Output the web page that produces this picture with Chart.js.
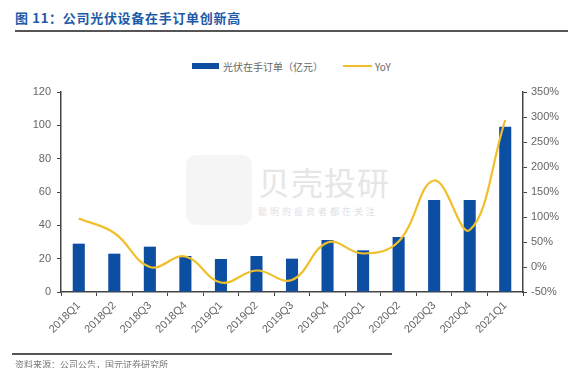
<!DOCTYPE html>
<html>
<head>
<meta charset="utf-8">
<script src="https://cdn.jsdelivr.net/npm/chart.js@4/dist/chart.umd.min.js"></script>
<style>
  html, body { margin:0; padding:0; background:#fff; }
  #wrap { position:relative; width:568px; height:368px; overflow:hidden; font-family:"Noto Sans CJK SC","Noto Sans",sans-serif; }
  #title { position:absolute; left:15px; top:8px; font-size:13px; font-weight:bold; color:#1d5aa8; letter-spacing:0.7px; }
  #tline { position:absolute; left:15px; top:30px; width:553px; height:2px; background:#555; }
  #legend { position:absolute; top:57px; left:192px; font-size:10px; color:#666; white-space:nowrap; }
  #legend span { display:inline-block; vertical-align:middle; }
  .sw1 { width:27px; height:6px; background:#0b4ea2; margin-right:4px; }
  .sw2 { width:29px; height:2px; background:#f0bf2a; margin-left:20px; margin-right:3px; }
  #fline { position:absolute; left:12px; top:353px; width:380px; height:2px; background:#555; }
  #foot { position:absolute; left:15px; top:358px; font-size:9px; color:#777; }
  #wm { position:absolute; left:186px; top:155px; width:66px; height:70px; background:#f5f5f5; border-radius:10px; }
  #wmt { position:absolute; left:258px; top:158px; font-size:32px; color:#e6e6e6; letter-spacing:1px; }
  #wms { position:absolute; left:258px; top:205px; font-size:9px; color:#e0e0e0; letter-spacing:3px; }
  canvas { position:absolute; left:0; top:0; }
</style>
</head>
<body>
<div id="wrap">
  <div id="wm"></div>
  <div id="wmt">贝壳投研</div>
  <div id="wms">聪明的投资者都在关注</div>
  <div id="title">图 11：公司光伏设备在手订单创新高</div>
  <div id="tline"></div>
  <div id="legend"><span class="sw1"></span><span>光伏在手订单（亿元）</span><span class="sw2"></span><span>YoY</span></div>
  <canvas id="c" width="568" height="368"></canvas>
  <div id="fline"></div>
  <div id="foot">资料来源：公司公告，国元证券研究所</div>
</div>
<script>
const categories = ["2018Q1","2018Q2","2018Q3","2018Q4","2019Q1","2019Q2","2019Q3","2019Q4","2020Q1","2020Q2","2020Q3","2020Q4","2021Q1"];
const orders = [29, 23, 27.2, 21.6, 19.8, 21.6, 20, 31.2, 25, 33, 55.2, 55.2, 99.2];
const yoy = [97, 68, 0, 21, -31, -7, -26, 49, 27, 51, 173, 74, 294];
const leftTicks = [0, 20, 40, 60, 80, 100, 120];
const rightTicks = [-50, 0, 50, 100, 150, 200, 250, 300, 350];

const axisColor = '#444';
const tickColor = '#666';

new Chart(document.getElementById('c'), {
  data: {
    labels: categories,
    datasets: [
      { type:'line', label:'YoY', data: yoy, yAxisID:'y2', borderColor:'#f0bf2a', borderWidth:2.2, tension:0.4, pointRadius:0, fill:false, order:0 },
      { type:'bar', label:'光伏在手订单（亿元）', data: orders, yAxisID:'y', backgroundColor:'#0b4ea2', barPercentage:0.34, categoryPercentage:1, order:1 }
    ]
  },
  options: {
    responsive:false, animation:false,
    layout: { padding: { top:92, left:0, right:0, bottom:0 } },
    plugins: { legend:{ display:false }, tooltip:{ enabled:false } },
    scales: {
      x: {
        grid: { display:true, drawOnChartArea:false, tickLength:4, color:axisColor, offset:true },
        border: { color:axisColor, width:1.5 },
        ticks: { color:tickColor, font:{ size:11, family:'"Liberation Sans", Arial, sans-serif' }, minRotation:45, maxRotation:45, padding:3 },
        afterFit: s => { s.height = 76; }
      },
      y: {
        position:'left', min:0, max:120,
        afterBuildTicks: s => { s.ticks = leftTicks.map(v => ({ value:v })); },
        grid: { drawOnChartArea:false, tickLength:4, color:axisColor },
        border: { color:axisColor, width:1.5 },
        ticks: { color:tickColor, font:{ size:11, family:'"Liberation Sans", Arial, sans-serif' }, padding:6 },
        afterFit: s => { s.width = 61; }
      },
      y2: {
        position:'right', min:-50, max:350,
        afterBuildTicks: s => { s.ticks = rightTicks.map(v => ({ value:v })); },
        grid: { drawOnChartArea:false, tickLength:4, color:axisColor },
        border: { color:axisColor, width:1.5 },
        ticks: { color:tickColor, font:{ size:11, family:'"Liberation Sans", Arial, sans-serif' }, padding:4, callback: v => v + '%' },
        afterFit: s => { s.width = 45; }
      }
    }
  }
});
</script>
</body>
</html>
